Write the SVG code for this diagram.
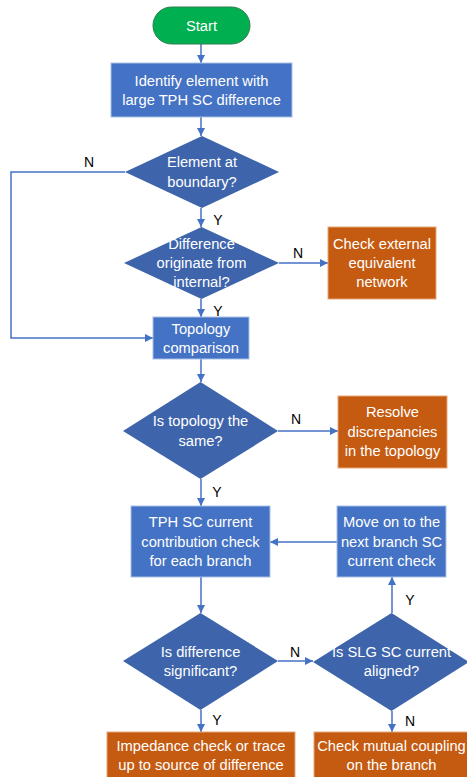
<svg xmlns="http://www.w3.org/2000/svg" width="467" height="777" viewBox="0 0 467 777">
<defs>
<style>
.t{font-family:"Liberation Sans",Arial,sans-serif;font-size:14.7px;fill:#ffffff;text-anchor:middle}
.l{font-family:"Liberation Sans",Arial,sans-serif;font-size:14px;fill:#000000;text-anchor:middle}
.box{fill:#4472C4;stroke:#A8BFE6;stroke-width:1}
.dia{fill:#3E64AC}
.org{fill:#C55A11;stroke:#E6A77A;stroke-width:1}
.c{fill:none;stroke:#4472C4;stroke-width:1.5;marker-end:url(#ah)}
</style>
<marker id="ah" viewBox="0 0 10 10" refX="10" refY="5" markerWidth="5.5" markerHeight="5.5" orient="auto" markerUnits="strokeWidth">
<path d="M0,0 L10,5 L0,10 Z" fill="#4472C4"/>
</marker>
</defs>
<rect width="467" height="777" fill="#ffffff"/>
<g id="connectors">
<path class="c" d="M201,44 V63"/>
<path class="c" d="M201,117 V136"/>
<path class="c" d="M125,172 H11 V338 H153"/>
<path class="c" d="M201,208 V227"/>
<path class="c" d="M279,263 H328"/>
<path class="c" d="M201,299 V317"/>
<path class="c" d="M201,359 V382"/>
<path class="c" d="M278,431 H338"/>
<path class="c" d="M201,479 V506"/>
<path class="c" d="M337,542 H270"/>
<path class="c" d="M201,577 V613"/>
<path class="c" d="M278,661 H313"/>
<path class="c" d="M392,613 V577"/>
<path class="c" d="M392,711 V732"/>
<path class="c" d="M201,710 V732"/>
</g>
<g id="labels">
<text class="l" x="89" y="167">N</text>
<text class="l" x="218" y="225">Y</text>
<text class="l" x="298" y="258">N</text>
<text class="l" x="218" y="316">Y</text>
<text class="l" x="296" y="424">N</text>
<text class="l" x="217" y="497">Y</text>
<text class="l" x="295" y="657">N</text>
<text class="l" x="410" y="605">Y</text>
<text class="l" x="410" y="726">N</text>
<text class="l" x="217" y="725">Y</text>
</g>
<g id="start">
<rect x="153" y="7" width="97" height="37" rx="18.5" fill="#00B050" stroke="#2F7D4F" stroke-width="1"/>
<text class="t" x="201.5" y="31">Start</text>
</g>
<g id="identify">
<rect class="box" x="111" y="63" width="181" height="54"/>
<text class="t" x="201.5" y="86">Identify element with</text>
<text class="t" x="201.5" y="105">large TPH SC difference</text>
</g>
<g id="boundary">
<polygon class="dia" points="202,136 279,172 202,208 125,172"/>
<text class="t" x="202" y="167">Element at</text>
<text class="t" x="202" y="187">boundary?</text>
</g>
<g id="internal">
<polygon class="dia" points="201.5,227 279,263 201.5,299 124,263"/>
<text class="t" x="201.5" y="249">Difference</text>
<text class="t" x="201.5" y="268">originate from</text>
<text class="t" x="201.5" y="287">internal?</text>
</g>
<g id="external">
<rect class="org" x="328" y="227" width="108" height="72"/>
<text class="t" x="382" y="249">Check external</text>
<text class="t" x="382" y="268">equivalent</text>
<text class="t" x="382" y="287">network</text>
</g>
<g id="topology">
<rect class="box" x="153" y="317" width="96" height="42"/>
<text class="t" x="201" y="334">Topology</text>
<text class="t" x="201" y="353">comparison</text>
</g>
<g id="same">
<polygon class="dia" points="200.5,382 278,431 200.5,479 123,431"/>
<text class="t" x="200.5" y="426">Is topology the</text>
<text class="t" x="200.5" y="446">same?</text>
</g>
<g id="resolve">
<rect class="org" x="338" y="396" width="109" height="72"/>
<text class="t" x="392.5" y="417">Resolve</text>
<text class="t" x="392.5" y="437">discrepancies</text>
<text class="t" x="392.5" y="456">in the topology</text>
</g>
<g id="tph">
<rect class="box" x="131" y="506" width="139" height="71"/>
<text class="t" x="200.5" y="527">TPH SC current</text>
<text class="t" x="200.5" y="547">contribution check</text>
<text class="t" x="200.5" y="566">for each branch</text>
</g>
<g id="moveon">
<rect class="box" x="337" y="506" width="109" height="71"/>
<text class="t" x="391.5" y="527">Move on to the</text>
<text class="t" x="391.5" y="547">next branch SC</text>
<text class="t" x="391.5" y="566">current check</text>
</g>
<g id="significant">
<polygon class="dia" points="200.5,613 278,661 200.5,710 123,661"/>
<text class="t" x="200.5" y="657">Is difference</text>
<text class="t" x="200.5" y="676">significant?</text>
</g>
<g id="aligned">
<polygon class="dia" points="391.5,613 469,662 391.5,711 313,662"/>
<text class="t" x="391.5" y="657">Is SLG SC current</text>
<text class="t" x="391.5" y="676">aligned?</text>
</g>
<g id="impedance">
<rect class="org" x="107" y="732" width="188" height="50"/>
<text class="t" x="201" y="751">Impedance check or trace</text>
<text class="t" x="201" y="770">up to source of difference</text>
</g>
<g id="mutual">
<rect class="org" x="314" y="732" width="160" height="50"/>
<text class="t" x="391.5" y="751">Check mutual coupling</text>
<text class="t" x="391.5" y="770">on the branch</text>
</g>
</svg>
